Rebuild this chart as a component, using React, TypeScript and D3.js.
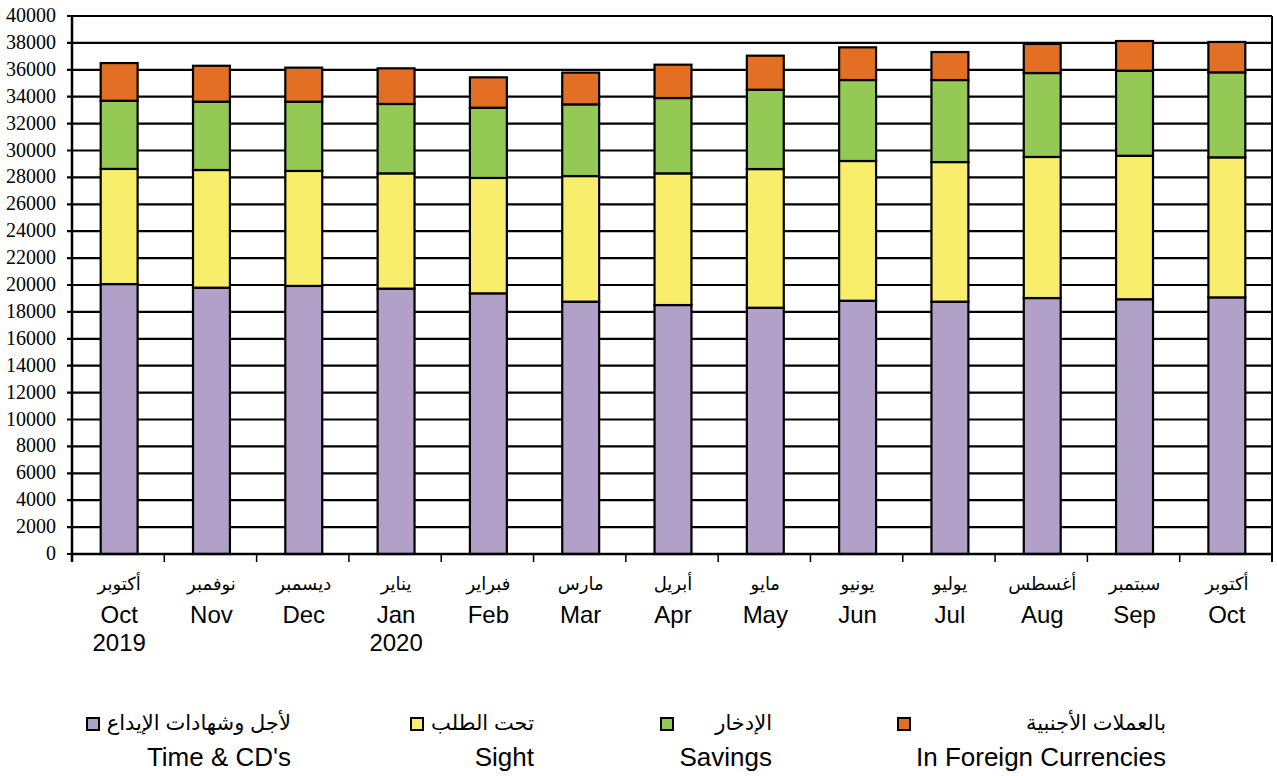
import React from "react";
import * as d3 from "d3";

const monthsAr = ["أكتوبر", "نوفمبر", "ديسمبر", "يناير", "فبراير", "مارس", "أبريل", "مايو", "يونيو", "يوليو", "أغسطس", "سبتمبر", "أكتوبر"];
const monthsEn = ["Oct", "Nov", "Dec", "Jan", "Feb", "Mar", "Apr", "May", "Jun", "Jul", "Aug", "Sep", "Oct"];
const years = ["2019", "", "", "2020", "", "", "", "", "", "", "", "", ""];

const timeCD = [20070, 19800, 19930, 19730, 19380, 18760, 18510, 18310, 18830, 18760, 19030, 18940, 19080];
const sight = [8560, 8750, 8550, 8570, 8580, 9340, 9790, 10310, 10390, 10380, 10490, 10670, 10410];
const savings = [5070, 5080, 5150, 5160, 5220, 5330, 5600, 5900, 6020, 6100, 6240, 6320, 6320];
const foreign = [2800, 2670, 2530, 2650, 2260, 2360, 2480, 2530, 2430, 2080, 2160, 2210, 2260];

const seriesNamesAr = ["لأجل وشهادات الإيداع", "تحت الطلب", "الإدخار", "بالعملات الأجنبية"];
const seriesNamesEn = ["Time & CD's", "Sight", "Savings", "In Foreign Currencies"];
const colors = ["#B1A1C8", "#F8EE6B", "#94C956", "#E36F25"];

const yTicks = d3.range(0, 40001, 2000);

export default function App() {
  const W = 1277, H = 776;
  const left = 72, right = 1272, top = 16, bottom = 554;
  const keys = ["t", "s", "v", "f"];
  const data = monthsEn.map((m, i) => ({ idx: String(i), t: timeCD[i], s: sight[i], v: savings[i], f: foreign[i] }));
  const stack = d3.stack<any>().keys(keys)(data);
  const x = d3.scaleBand<string>().domain(data.map((d) => d.idx)).range([left, right]).padding(0);
  const y = d3.scaleLinear().domain([0, 40000]).range([bottom, top]);
  const bw = x.bandwidth() * 0.4;
  const sans = "'Liberation Sans', Arial, 'DejaVu Sans', sans-serif";
  const serif = "'Liberation Serif', 'Times New Roman', serif";

  const legendItems = [
    { sq: 87, textRight: 291 },
    { sq: 411, textRight: 534 },
    { sq: 661, textRight: 772 },
    { sq: 898, textRight: 1166 },
  ];

  return (
    <svg width={W} height={H} style={{ position: "absolute", left: 0, top: 0, background: "#fff" }}>
      {yTicks.map((t) => (
        <line key={"g" + t} x1={left - 5} x2={right} y1={y(t)} y2={y(t)} stroke="#000" strokeWidth={2.2} />
      ))}
      {yTicks.map((t) => (
        <text key={"yl" + t} x={56} y={y(t) + 6} textAnchor="end" fontFamily={serif} fontSize={20} fill="#000">
          {t}
        </text>
      ))}
      {stack.map((layer, li) =>
        layer.map((d, i) => (
          <rect
            key={li + "-" + i}
            x={(x(String(i)) as number) + x.bandwidth() / 2 - bw / 2 + 1}
            width={bw}
            y={y(d[1])}
            height={y(d[0]) - y(d[1])}
            fill={colors[li]}
            stroke="#000"
            strokeWidth={2.2}
          />
        ))
      )}
      <line x1={left} x2={left} y1={top} y2={bottom + 8} stroke="#000" strokeWidth={2.5} />
      <line x1={right} x2={right} y1={top} y2={bottom + 8} stroke="#000" strokeWidth={2} />
      <line x1={left} x2={right} y1={bottom} y2={bottom} stroke="#000" strokeWidth={2.5} />
      {data.map((d, i) => (
        <line key={"xt" + i} x1={x(d.idx) as number} x2={x(d.idx) as number} y1={bottom} y2={bottom + 8} stroke="#000" strokeWidth={1.5} />
      ))}
      {data.map((d, i) => {
        const cx = (x(d.idx) as number) + x.bandwidth() / 2 + 1;
        return (
          <g key={"xl" + i}>
            <text x={cx} y={590} textAnchor="middle" fontFamily={sans} fontSize={18} fill="#000">
              {monthsAr[i]}
            </text>
            <text x={cx} y={623} textAnchor="middle" fontFamily={sans} fontSize={24} fill="#000">
              {monthsEn[i]}
            </text>
            {years[i] && (
              <text x={cx} y={651} textAnchor="middle" fontFamily={sans} fontSize={24} fill="#000">
                {years[i]}
              </text>
            )}
          </g>
        );
      })}
      {legendItems.map((l, i) => (
        <g key={"lg" + i}>
          <rect x={l.sq} y={718} width={12} height={12} fill={colors[i]} stroke="#000" strokeWidth={2} />
          <text x={l.textRight} y={730} textAnchor="end" fontFamily={sans} fontSize={21} fill="#000">
            {seriesNamesAr[i]}
          </text>
          <text x={l.textRight} y={766} textAnchor="end" fontFamily={sans} fontSize={26} fill="#000">
            {seriesNamesEn[i]}
          </text>
        </g>
      ))}
    </svg>
  );
}
